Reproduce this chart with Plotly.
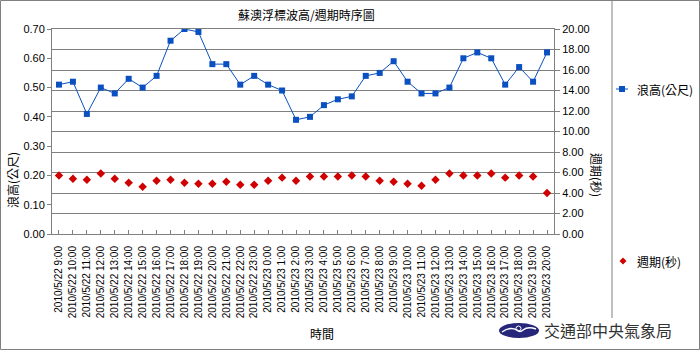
import plotly.graph_objects as go

# ---- data ----
times = (
    [f"2010/5/22 {h}:00" for h in range(9, 24)]
    + [f"2010/5/23 {h}:00" for h in range(0, 21)]
)
wave_height = [0.51, 0.52, 0.41, 0.50, 0.48, 0.53, 0.50, 0.54, 0.66, 0.70,
               0.69, 0.58, 0.58, 0.51, 0.54, 0.51, 0.49, 0.39, 0.40, 0.44,
               0.46, 0.47, 0.54, 0.55, 0.59, 0.52, 0.48, 0.48, 0.50, 0.60,
               0.62, 0.60, 0.51, 0.57, 0.52, 0.62]
wave_period = [5.7, 5.4, 5.3, 5.9, 5.4, 5.0, 4.6, 5.2, 5.3, 5.0,
               4.9, 4.9, 5.1, 4.8, 4.8, 5.2, 5.5, 5.2, 5.6, 5.6,
               5.6, 5.7, 5.6, 5.2, 5.1, 4.9, 4.7, 5.3, 5.9, 5.7,
               5.7, 5.9, 5.5, 5.7, 5.6, 4.0]
left_ticks = [0.0, 0.1, 0.2, 0.3, 0.4, 0.5, 0.6, 0.7]
right_ticks = [0, 2, 4, 6, 8, 10, 12, 14, 16, 18, 20]

title = "蘇澳浮標波高/週期時序圖"
name_h = "浪高(公尺)"
name_p = "週期(秒)"

# ---- layout geometry (pixels) ----
W, H = 700, 350
L, R, T, B = 52, 554, 29, 234
PW, PH = R - L, B - T

def px(x):
    return (x - L) / PW

def py(y):
    return (B - y) / PH

BLUE = "#0a50c0"
RED = "#d00000"
GRID = "#808080"
LAT = "Arial, Liberation Sans, Noto Sans CJK TC"
CJK = "Noto Sans CJK TC, Arial"

fig = go.Figure()
fig.add_trace(go.Scatter(
    x=times, y=wave_height, name=name_h, mode="lines+markers",
    line=dict(color=BLUE, width=1),
    marker=dict(symbol="square", size=6, color=BLUE),
    yaxis="y", showlegend=False,
))
fig.add_trace(go.Scatter(
    x=times, y=wave_period, name=name_p, mode="markers",
    marker=dict(symbol="diamond", size=6.5, color=RED),
    yaxis="y2", showlegend=False,
))

fig.update_layout(
    width=W, height=H,
    margin=dict(l=L, r=W - R, t=T, b=H - B),
    paper_bgcolor="white", plot_bgcolor="white",
    font=dict(family=LAT, size=11, color="black"),
    xaxis=dict(
        type="category", range=[-0.5, len(times) - 0.5],
        tickangle=-90, tickfont=dict(size=10, family=LAT),
        ticks="inside", ticklen=4, tickcolor=GRID,
        showline=True, linecolor=GRID, linewidth=1, mirror=True,
        showgrid=False, zeroline=False, ticklabelstandoff=7,
    ),
    yaxis=dict(
        range=[0, 0.7], tickvals=left_ticks, tickformat=".2f",
        ticks="outside", ticklen=4, tickcolor=GRID,
        showline=True, linecolor=GRID, linewidth=1,
        showgrid=False, zeroline=False, tickfont=dict(size=11),
    ),
    yaxis2=dict(
        range=[0, 20], tickvals=right_ticks, tickformat=".2f",
        overlaying="y", side="right",
        ticks="outside", ticklen=5, tickcolor=GRID,
        showline=True, linecolor=GRID, linewidth=1,
        showgrid=True, gridcolor=GRID, gridwidth=1, zeroline=False,
        tickfont=dict(size=11),
    ),
)

ann = []
def add_text(text, x, y, size=12, angle=0, color="black", family=CJK, xanchor="center"):
    ann.append(dict(text=text, x=px(x), y=py(y), xref="paper", yref="paper",
                    showarrow=False, textangle=angle, xanchor=xanchor, yanchor="middle",
                    font=dict(size=size, color=color, family=family)))

add_text(title, 306, 15, size=12)
add_text(name_h, 12, 180, size=12, angle=-90)
add_text(name_p, 597, 175, size=12, angle=90)
add_text("時間", 322, 333, size=12)
add_text(name_h, 635, 89, size=12, xanchor="left")
add_text(name_p, 635, 261, size=12, xanchor="left")
add_text("交通部中央氣象局", 542, 330, size=16, color="#333333", xanchor="left")
fig.update_layout(annotations=ann)

shapes = []
# outer border
shapes.append(dict(type="rect", xref="paper", yref="paper",
                   x0=px(0.5), x1=px(699.5), y0=py(0.5), y1=py(349.5),
                   line=dict(color=GRID, width=1), layer="below"))
# legend separator
shapes.append(dict(type="line", xref="paper", yref="paper",
                   x0=px(612), x1=px(612), y0=py(0.5), y1=py(318),
                   line=dict(color=GRID, width=1)))
# legend symbols
shapes.append(dict(type="line", xref="paper", yref="paper",
                   x0=px(616), x1=px(628), y0=py(89), y1=py(89),
                   line=dict(color=BLUE, width=1)))
shapes.append(dict(type="rect", xref="paper", yref="paper",
                   x0=px(619), x1=px(625), y0=py(86), y1=py(92),
                   fillcolor=BLUE, line=dict(width=0)))
shapes.append(dict(type="path", xref="paper", yref="paper",
                   path=f"M {px(623)},{py(257.5)} L {px(626.5)},{py(261)} L {px(623)},{py(264.5)} L {px(619.5)},{py(261)} Z",
                   fillcolor=RED, line=dict(width=0)))
# logo
shapes.append(dict(type="circle", xref="paper", yref="paper",
                   x0=px(499), x1=px(539), y0=py(323), y1=py(338),
                   fillcolor="#26267a", line=dict(width=0)))
shapes.append(dict(type="path", xref="paper", yref="paper",
                   path=(f"M {px(502)},{py(332)} Q {px(510)},{py(326)} {px(517)},{py(330)} "
                         f"Q {px(520)},{py(333)} {px(523)},{py(330)} "
                         f"Q {px(528)},{py(326)} {px(536)},{py(329)}"),
                   line=dict(color="white", width=1.5)))
shapes.append(dict(type="circle", xref="paper", yref="paper",
                   x0=px(516), x1=px(521), y0=py(326), y1=py(331),
                   line=dict(color="white", width=1)))
fig.update_layout(shapes=shapes)

fig.write_html("out.html")
